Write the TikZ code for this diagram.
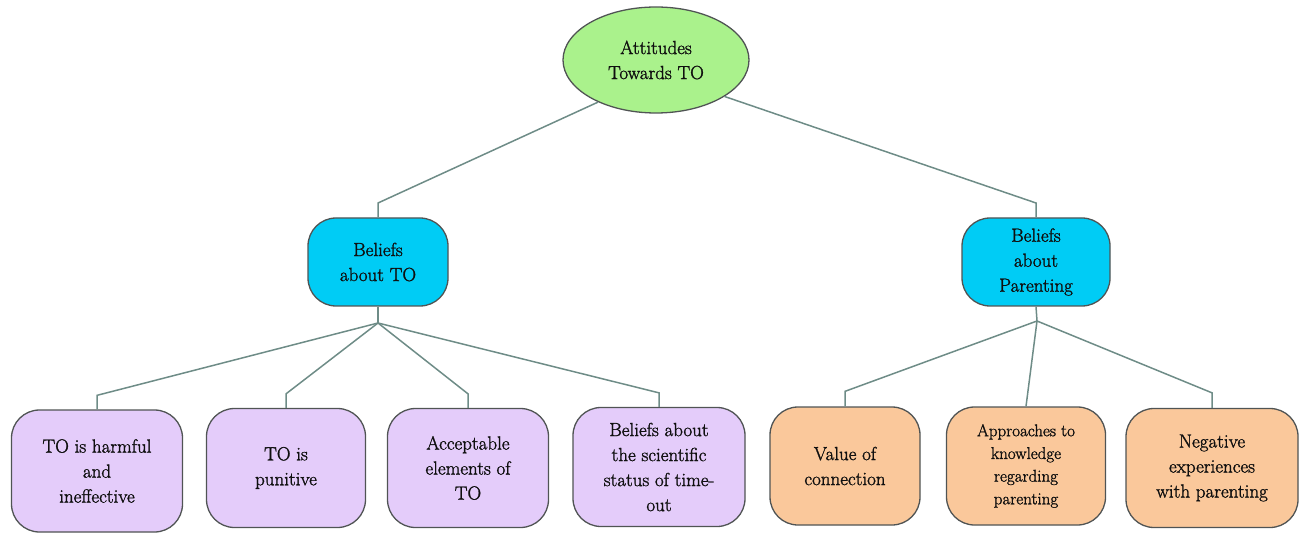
\documentclass[tikz,border=0pt]{standalone}
\usepackage{fontspec}
\newfontfamily\lmheavy{Latin Modern Roman}[FakeBold=1.4]
\usetikzlibrary{shapes.geometric}
\definecolor{topgreen}{RGB}{170,242,140}
\definecolor{midcyan}{RGB}{0,204,245}
\definecolor{lowpurple}{RGB}{228,204,250}
\definecolor{loworange}{RGB}{250,200,155}
\definecolor{boxedge}{RGB}{80,84,84}
\definecolor{linecol}{RGB}{110,140,135}
\definecolor{txt}{RGB}{15,15,15}
\begin{document}
\begin{tikzpicture}[x=1pt,y=-1pt,
  lbl/.style={align=center, inner sep=0pt, text=txt, font=\lmheavy\fontsize{19}{25}\selectfont},
  box/.style={lbl, draw=boxedge, line width=1.3pt, rounded corners=28pt},
  conn/.style={draw=linecol, line width=1.5pt}]
\useasboundingbox (0,0) rectangle (1303,534);

\node[lbl, ellipse, draw=boxedge, line width=1.3pt, fill=topgreen, minimum width=186pt, minimum height=106pt] (top) at (656,60) {Attitudes\\Towards TO};

\node[box, fill=midcyan, minimum width=140pt, minimum height=88pt] (mto) at (378,262) {Beliefs\\about TO};
\node[box, fill=midcyan, minimum width=148pt, minimum height=88pt] (mpar) at (1036,262) {Beliefs\\about\\Parenting};

\node[box, fill=lowpurple, minimum width=171pt, minimum height=122pt] (b1) at (97,471) {TO is harmful\\and\\ineffective};
\node[box, fill=lowpurple, minimum width=159pt, minimum height=119pt] (b2) at (286,468) {TO is\\punitive};
\node[box, fill=lowpurple, minimum width=161pt, minimum height=119pt] (b3) at (468,468) {Acceptable\\elements of\\TO};
\node[box, fill=lowpurple, minimum width=172pt, minimum height=119pt] (b4) at (659,467) {Beliefs about\\the scientific\\status of time-\\out};

\node[box, fill=loworange, minimum width=150pt, minimum height=118pt] (b5) at (845,466) {Value of\\connection};
\node[box, fill=loworange, minimum width=159pt, minimum height=118pt, font=\lmheavy\fontsize{17}{22.7}\selectfont] (b6) at (1026,466) {Approaches to\\knowledge\\regarding\\parenting};
\node[box, fill=loworange, minimum width=172pt, minimum height=119pt] (b7) at (1212,468) {Negative\\experiences\\with parenting};

% top level connectors
\coordinate (k1) at (378,203);
\coordinate (k2) at (1036,203);
\draw[conn] (top.216) -- (k1) -- (mto.north);
\draw[conn] (top.332) -- (k2) -- (mpar.north);

% left group
\coordinate (j1) at (378,323);
\draw[conn] (mto.south) -- (j1);
\foreach \b in {b1,b2,b3,b4}{
  \path (\b.north) ++(0,-14) coordinate (c\b);
  \draw[conn] (j1) -- (c\b) -- (\b.north);
}

% right group
\coordinate (j2) at (1037,321);
\draw[conn] (mpar.south) -- (j2);
\foreach \b in {b5,b7}{
  \path (\b.north) ++(0,-15) coordinate (c\b);
  \draw[conn] (j2) -- (c\b) -- (\b.north);
}
\draw[conn] (j2) -- (b6.north);
\end{tikzpicture}
\end{document}
